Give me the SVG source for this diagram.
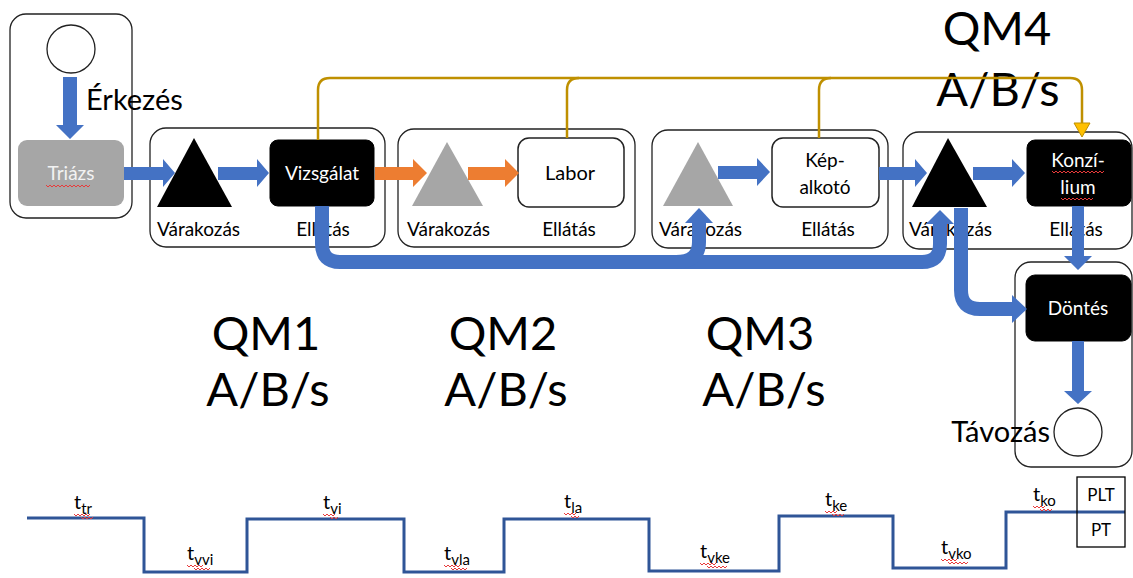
<svg xmlns="http://www.w3.org/2000/svg" width="1133" height="578" viewBox="0 0 1133 578">
  <style>
    text { font-family: Lato, "Open Sans", "Liberation Sans", sans-serif; fill: #000; }
    .frame { fill: #fff; stroke: #222; stroke-width: 1.3; }
    .box-dark { fill: #000; stroke: #000; }
    .box-light { fill: #fff; stroke: #222; stroke-width: 1.5; }
    .box-gray { fill: #a6a6a6; }
    .inner { font-size: 19px; text-anchor: middle; }
    .lbl { font-size: 19px; }
    .mid { text-anchor: middle; }
    .big { font-size: 47px; text-anchor: middle; }
    .side { font-size: 29px; }
    .blue { fill: #4472c4; }
    .orange { fill: #ed7d31; }
    .pipe { fill: none; stroke: #4472c4; stroke-width: 14; }
    .gold { fill: none; stroke: #bf9000; stroke-width: 2.5; }
    .step { fill: none; stroke: #2f5597; stroke-width: 3; stroke-linejoin: miter; }
    .t { font-size: 20px; }
    .sub { font-size: 15px; }
    .squig { fill: none; stroke: #e83a3a; stroke-width: 1; }
  </style>

  <!-- station frames -->
  <g id="arrival">
    <rect class="frame" x="10" y="14" width="122" height="204" rx="16"/>
    <circle cx="71" cy="49" r="24" fill="#fff" stroke="#222" stroke-width="1.3"/>
    <polygon class="blue" points="63,77 77,77 77,125 84,125 70,139 56,125 63,125"/>
    <text class="side" x="86" y="110">Érkezés</text>
  </g>

  <g id="triage">
    <rect class="box-gray" x="18" y="140" width="106" height="66" rx="9"/>
    <text class="inner" x="71" y="180" style="fill:#f2f2f2">Triázs</text>
    <path class="squig" d="M46,185 l2,2 l2,-2 l2,2 l2,-2 l2,2 l2,-2 l2,2 l2,-2 l2,2 l2,-2 l2,2 l2,-2 l2,2 l2,-2 l2,2 l2,-2 l2,2 l2,-2 l2,2 l2,-2 l2,2 l2,-2"/>
  </g>

  <g id="qm1">
    <rect class="frame" x="150" y="128" width="235" height="119" rx="16"/>
    <polygon points="194,138 232,207 157,207"/>
    <rect class="box-dark" x="270" y="140" width="104" height="66" rx="8"/>
    <text class="inner" x="322" y="180" style="fill:#fff">Vizsgálat</text>
    <text class="lbl" x="157" y="236">Várakozás</text>
    <text class="lbl mid" x="323" y="236">Ellátás</text>
  </g>

  <g id="qm2">
    <rect class="frame" x="398" y="129" width="237" height="118" rx="16"/>
    <polygon points="447,142 483,206 412,206" fill="#a6a6a6"/>
    <rect class="box-light" x="518" y="138" width="106" height="69" rx="11"/>
    <text class="inner" x="570" y="180" style="font-size:20px">Labor</text>
    <text class="lbl" x="407" y="236">Várakozás</text>
    <text class="lbl mid" x="569" y="236">Ellátás</text>
  </g>

  <g id="qm3">
    <rect class="frame" x="652" y="130" width="236" height="118" rx="16"/>
    <polygon points="698,142 733,206 663,206" fill="#a6a6a6"/>
    <rect class="box-light" x="772" y="138" width="107" height="69" rx="11"/>
    <text class="inner" x="825" y="167">Kép-</text>
    <text class="inner" x="825" y="194">alkotó</text>
    <text class="lbl" x="659" y="236">Várakozás</text>
    <text class="lbl mid" x="828" y="236">Ellátás</text>
  </g>

  <g id="qm4">
    <rect class="frame" x="903" y="132" width="229" height="117" rx="16"/>
    <polygon points="948,138 987,207 912,207"/>
    <rect class="box-dark" x="1027" y="140" width="104" height="66" rx="8"/>
    <text class="inner" x="1078" y="167" style="fill:#fff">Konzí-</text>
    <text class="inner" x="1078" y="194" style="fill:#fff">lium</text>
    <path class="squig" d="M1052,171 l2,2 l2,-2 l2,2 l2,-2 l2,2 l2,-2 l2,2 l2,-2 l2,2 l2,-2 l2,2 l2,-2 l2,2 l2,-2 l2,2 l2,-2 l2,2 l2,-2 l2,2 l2,-2 l2,2 l2,-2 l2,2 l2,-2 l2,2 l2,-2"/>
    <path class="squig" d="M1061,198 l2,2 l2,-2 l2,2 l2,-2 l2,2 l2,-2 l2,2 l2,-2 l2,2 l2,-2 l2,2 l2,-2 l2,2 l2,-2 l2,2 l2,-2"/>
    <text class="lbl" x="909" y="236">Várakozás</text>
    <text class="lbl mid" x="1076" y="236">Ellátás</text>
  </g>

  <g id="exit">
    <rect class="frame" x="1015" y="262" width="117" height="205" rx="16"/>
    <rect class="box-dark" x="1026" y="275" width="105" height="66" rx="9"/>
    <text class="inner" x="1078" y="315" style="fill:#fff">Döntés</text>
    <circle cx="1078" cy="432" r="24" fill="#fff" stroke="#222" stroke-width="1.3"/>
    <text class="side" x="1050" y="442" text-anchor="end">Távozás</text>
  </g>

  <!-- queue model labels -->
  <g id="labels">
    <text class="big" x="266" y="350">QM1</text>
    <text class="big" x="268" y="406">A/B/s</text>
    <text class="big" x="503" y="350">QM2</text>
    <text class="big" x="506" y="406">A/B/s</text>
    <text class="big" x="760" y="350">QM3</text>
    <text class="big" x="764" y="406">A/B/s</text>
    <text class="big" x="997" y="45">QM4</text>
    <text class="big" x="998" y="106">A/B/s</text>
  </g>

  <!-- connectors -->
  <g id="connectors">
    <!-- straight flow arrows -->
    <polygon class="blue" points="124,167 163,167 163,159 175,173 163,187 163,180 124,180"/>
    <polygon class="blue" points="218,167 257,167 257,159 269,173 257,187 257,180 218,180"/>
    <polygon class="orange" points="375,167 413,167 413,159 427,173 413,187 413,180 375,180"/>
    <polygon class="orange" points="468,167 505,167 505,159 519,173 505,187 505,180 468,180"/>
    <polygon class="blue" points="718,166 757,166 757,158 770,172 757,186 757,179 718,179"/>
    <polygon class="blue" points="879,167 915,167 915,159 927,173 915,187 915,180 879,180"/>
    <polygon class="blue" points="973,167 1012,167 1012,159 1025,173 1012,187 1012,180 973,180"/>
    <polygon class="blue" points="1072,206 1084,206 1084,256 1092,256 1078,270 1064,256 1072,256"/>
    <polygon class="blue" points="1072,341 1084,341 1084,391 1092,391 1078,404 1064,391 1072,391"/>

    <!-- bypass routes below the stations -->
    <path class="pipe" d="M322,206 V244 Q322,262 340,262 H922 Q940,262 940,244 V223"/>
    <path class="pipe" d="M676,262 Q699,262 699,242 V222"/>
    <polygon class="blue" points="685,223 713,223 699,208"/>
    <polygon class="blue" points="926,224 954,224 940,210"/>
    <path class="pipe" d="M961,208 V290 Q961,309 980,309 H1013"/>
    <polygon class="blue" points="1012,295 1012,323 1027,309"/>

    <!-- result feedback to the council -->
    <path class="gold" d="M318,140 V90 Q318,78 330,78 H1070 Q1082,78 1082,90 V124"/>
    <path class="gold" d="M567,138 V90 Q567,78 579,78"/>
    <path class="gold" d="M819,138 V90 Q819,78 831,78"/>
    <polygon points="1074,123 1090,123 1082,137" fill="#ffc000" stroke="#bf9000" stroke-width="1"/>
  </g>

  <!-- time profile -->
  <g id="timeline">
    <path class="step" d="M27,518 H144 V572 H247 V519 H404 V572 H504 V519 H649 V571 H779 V516 H893 V568 H1006 V512 H1125"/>
    <rect x="1077" y="477" width="48" height="70" fill="none" stroke="#000" stroke-width="1.3"/>
    <text class="mid" x="1101" y="501" style="font-size:17px">PLT</text>
    <text class="mid" x="1101" y="536" style="font-size:17px">PT</text>

    <text class="t" x="74" y="509">t<tspan class="sub" dy="5">tr</tspan></text>
    <text class="t" x="187" y="560">t<tspan class="sub" dy="5">vvi</tspan></text>
    <text class="t" x="323" y="509">t<tspan class="sub" dy="5">vi</tspan></text>
    <text class="t" x="444" y="560">t<tspan class="sub" dy="5">vla</tspan></text>
    <text class="t" x="564" y="508">t<tspan class="sub" dy="5">la</tspan></text>
    <text class="t" x="700" y="558">t<tspan class="sub" dy="5">vke</tspan></text>
    <text class="t" x="825" y="506">t<tspan class="sub" dy="5">ke</tspan></text>
    <text class="t" x="941" y="554">t<tspan class="sub" dy="5">vko</tspan></text>
    <text class="t" x="1033" y="501">t<tspan class="sub" dy="5">ko</tspan></text>

    <path class="squig" d="M74,514 l2,2 l2,-2 l2,2 l2,-2 l2,2 l2,-2 l2,2 l2,-2 M81,517 l2,2 l2,-2 l2,2 l2,-2 l2,2 l2,-2"/>
    <path class="squig" d="M187,565 l2,2 l2,-2 l2,2 l2,-2 l2,2 l2,-2 l2,2 l2,-2 M194,568 l2,2 l2,-2 l2,2 l2,-2 l2,2 l2,-2 l2,2 l2,-2"/>
    <path class="squig" d="M323,514 l2,2 l2,-2 l2,2 l2,-2 l2,2 l2,-2 M330,517 l2,2 l2,-2 l2,2 l2,-2"/>
    <path class="squig" d="M444,565 l2,2 l2,-2 l2,2 l2,-2 l2,2 l2,-2 l2,2 l2,-2 M451,568 l2,2 l2,-2 l2,2 l2,-2 l2,2 l2,-2 l2,2 l2,-2"/>
    <path class="squig" d="M564,513 l2,2 l2,-2 l2,2 l2,-2 l2,2 l2,-2 M571,516 l2,2 l2,-2 l2,2 l2,-2"/>
    <path class="squig" d="M700,563 l2,2 l2,-2 l2,2 l2,-2 l2,2 l2,-2 l2,2 l2,-2 M707,566 l2,2 l2,-2 l2,2 l2,-2 l2,2 l2,-2 l2,2 l2,-2 l2,2 l2,-2"/>
    <path class="squig" d="M825,511 l2,2 l2,-2 l2,2 l2,-2 l2,2 l2,-2 M832,514 l2,2 l2,-2 l2,2 l2,-2 l2,2 l2,-2"/>
    <path class="squig" d="M941,559 l2,2 l2,-2 l2,2 l2,-2 l2,2 l2,-2 l2,2 l2,-2 M948,562 l2,2 l2,-2 l2,2 l2,-2 l2,2 l2,-2 l2,2 l2,-2 l2,2 l2,-2"/>
    <path class="squig" d="M1033,506 l2,2 l2,-2 l2,2 l2,-2 l2,2 l2,-2 M1040,509 l2,2 l2,-2 l2,2 l2,-2 l2,2 l2,-2"/>
  </g>
</svg>
